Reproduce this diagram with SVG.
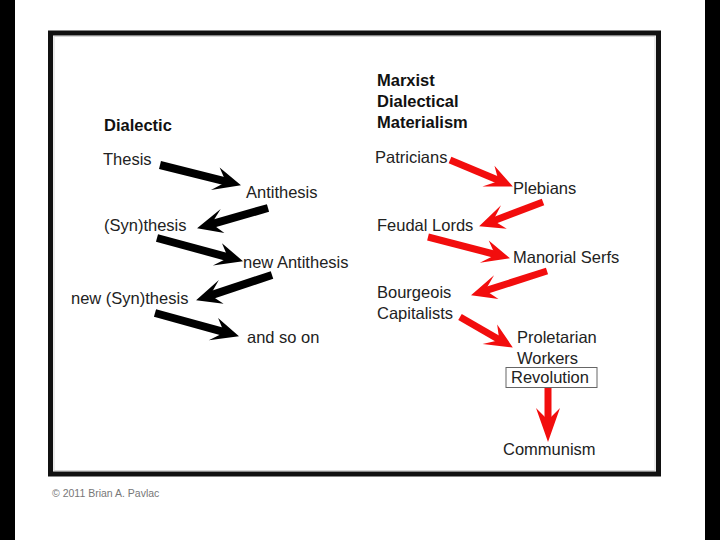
<svg xmlns="http://www.w3.org/2000/svg" width="720" height="540" viewBox="0 0 720 540">
<defs>
<style>
text{font-family:"Liberation Sans",Arial,sans-serif;font-size:16.5px;fill:#222}
.h{font-weight:bold;font-size:16.5px;fill:#111}
.blk{stroke:#000;stroke-width:8;fill:none}
.red{stroke:#f20d0d;stroke-width:7;fill:none}
</style>
<marker id="hb" markerUnits="userSpaceOnUse" markerWidth="40" markerHeight="40" refX="10" refY="0" viewBox="-5 -20 40 40" orient="auto" overflow="visible">
<path d="M27,0 L2,-12 L9,-3 L9,3 L-1,12 Z" fill="#000"/>
</marker>
<marker id="hr" markerUnits="userSpaceOnUse" markerWidth="40" markerHeight="40" refX="10" refY="0" viewBox="-5 -20 40 40" orient="auto" overflow="visible">
<path d="M27,0 L2,-12 L9,-3 L9,3 L-1,12 Z" fill="#f20d0d"/>
</marker>
<marker id="hrl" markerUnits="userSpaceOnUse" markerWidth="50" markerHeight="40" refX="10" refY="0" viewBox="-5 -20 50 40" orient="auto" overflow="visible">
<path d="M34,0 L0,-12 L9,-3 L9,3 L0,12 Z" fill="#f20d0d"/>
</marker>
</defs>
<rect x="0" y="0" width="720" height="540" fill="#fff"/>
<rect x="0" y="0" width="15" height="540" fill="#000"/>
<rect x="705" y="0" width="15" height="540" fill="#000"/>
<rect x="50.5" y="33" width="608" height="441" fill="#fff" stroke="#111" stroke-width="5"/>
<rect x="54" y="36.5" width="601" height="434" fill="none" stroke="#d8d8d8" stroke-width="1"/>

<g id="connectors">
<line class="blk" x1="160" y1="165" x2="224.5" y2="181.1" marker-end="url(#hb)"/>
<line class="blk" x1="268" y1="208" x2="213.4" y2="223.6" marker-end="url(#hb)"/>
<line class="blk" x1="157" y1="238" x2="226.6" y2="256.8" marker-end="url(#hb)"/>
<line class="blk" x1="272" y1="275" x2="212.2" y2="294.9" marker-end="url(#hb)"/>
<line class="blk" x1="155" y1="313" x2="222.6" y2="331.7" marker-end="url(#hb)"/>
<line class="red" x1="450" y1="160" x2="497.2" y2="179.8" marker-end="url(#hr)"/>
<line class="red" x1="543" y1="202" x2="495" y2="220.3" marker-end="url(#hr)"/>
<line class="red" x1="428" y1="237" x2="493.5" y2="254" marker-end="url(#hr)"/>
<line class="red" x1="547" y1="271" x2="487.2" y2="290.1" marker-end="url(#hr)"/>
<line class="red" x1="460" y1="317" x2="498.1" y2="339" marker-end="url(#hr)"/>
<line class="red" x1="548" y1="388" x2="548" y2="418" marker-end="url(#hrl)"/>
</g>

<g id="dialectic-title"><text class="h" x="104" y="131">Dialectic</text></g>
<g id="thesis"><text x="103" y="165">Thesis</text></g>
<g id="antithesis"><text x="246" y="198">Antithesis</text></g>
<g id="synthesis"><text x="104" y="231">(Syn)thesis</text></g>
<g id="new-antithesis"><text x="243" y="268">new Antithesis</text></g>
<g id="new-synthesis"><text x="71" y="304">new (Syn)thesis</text></g>
<g id="and-so-on"><text x="247" y="343">and so on</text></g>

<g id="marxist-title">
<text class="h" x="377" y="86">Marxist</text>
<text class="h" x="377" y="107">Dialectical</text>
<text class="h" x="377" y="128">Materialism</text>
</g>
<g id="patricians"><text x="375" y="163">Patricians</text></g>
<g id="plebians"><text x="513" y="194">Plebians</text></g>
<g id="feudal-lords"><text x="377" y="231">Feudal Lords</text></g>
<g id="manorial-serfs"><text x="513" y="263">Manorial Serfs</text></g>
<g id="bourgeois"><text x="377" y="298">Bourgeois</text><text x="377" y="319">Capitalists</text></g>
<g id="proletarian"><text x="517" y="343">Proletarian</text><text x="517" y="364">Workers</text></g>
<g id="revolution"><rect x="506" y="367.5" width="91" height="20" fill="#fff" stroke="#666" stroke-width="1"/><text x="511" y="383">Revolution</text></g>
<g id="communism"><text x="503" y="455">Communism</text></g>

<text x="52" y="497" style="font-size:10.5px;fill:#777">© 2011 Brian A. Pavlac</text>
</svg>
